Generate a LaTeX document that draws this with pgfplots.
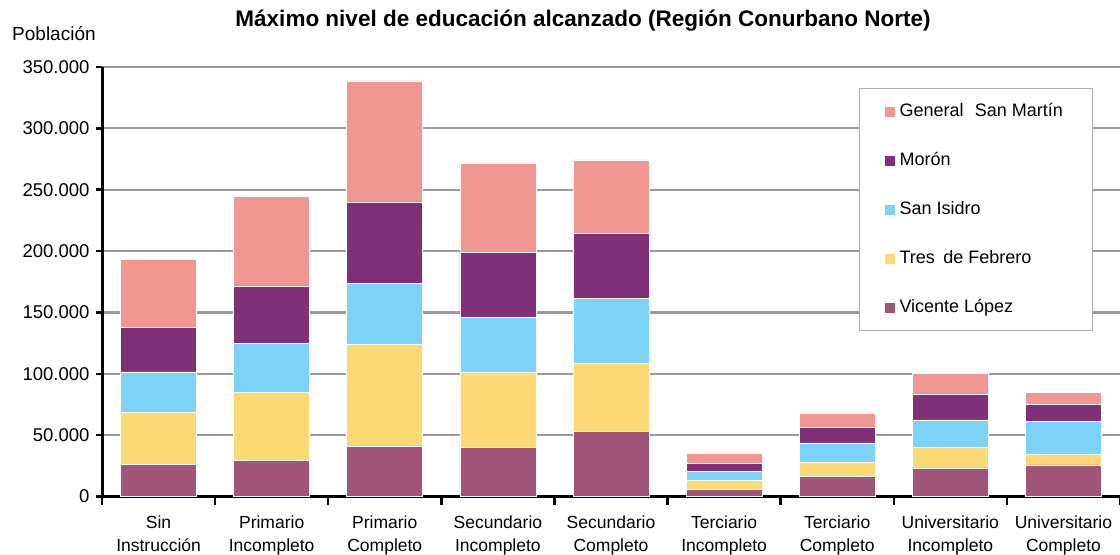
\documentclass[border=0pt]{standalone}
\usepackage{pgfplots}
\pgfplotsset{compat=1.18}
\usepackage{pgfplotstable}
\usepackage{fontspec}
\setmainfont{Liberation Sans}
\usetikzlibrary{calc}
\definecolor{cGSM}{HTML}{F09792}
\definecolor{cMor}{HTML}{7F3079}
\definecolor{cSI}{HTML}{7DD3F7}
\definecolor{cTdF}{HTML}{FDD976}
\definecolor{cVL}{HTML}{A05577}
\definecolor{cgrid}{HTML}{9A9A9E}

\pgfplotstableread{
x VL TdF SI Mor GSM
0 26000 42600 32900 36300 55400
1 29600 55600 39600 46900 73200
2 41200 82800 49400 66700 98500
3 40200 61300 44700 52900 72800
4 53200 55300 53200 52600 60000
5 6000 7300 7100 6800 8400
6 16300 12000 15400 12500 12000
7 23400 16800 22300 21200 16900
8 25800 8700 26600 14200 9500
}\data

\begin{document}
\begin{tikzpicture}
\begin{axis}[name=ax, scale only axis, width=1018pt, height=429.5pt,
  ybar stacked, bar width=76pt,
  xmin=-0.5, xmax=8.5, ymin=0, ymax=350000,
  scaled y ticks=false,
  axis lines*=left, axis line style={black, line width=3pt},
  ytick={0,50000,...,350000},
  yticklabels={0,50.000,100.000,150.000,200.000,250.000,300.000,350.000},
  yticklabel style={font=\fontsize{18.5}{22}\selectfont, xshift=-3pt},
  xtick={0,...,8},
  xticklabels={{Sin\\Instrucción},{Primario\\Incompleto},{Primario\\Completo},{Secundario\\Incompleto},{Secundario\\Completo},{Terciario\\Incompleto},{Terciario\\Completo},{Universitario\\Incompleto},{Universitario\\Completo}},
  xticklabel style={align=center, font=\fontsize{17.5}{22.5}\selectfont, yshift=-10pt},
  minor xtick={-0.5,0.5,...,8.5},
  tick align=outside,
  major tick length=6pt, minor tick length=8pt,
  major x tick style={draw=none},
  minor x tick style={black, line width=2.5pt},
  ytick style={black, line width=2.5pt},
  ymajorgrids, grid style={cgrid, line width=2.2pt},
  legend style={at={(rel axis cs:0.744,0.951)}, anchor=north west,
    draw=cgrid!80, line width=1pt, inner xsep=24pt, inner ysep=15pt,
    row sep=33pt, font=\fontsize{18}{21}\selectfont,
    nodes={inner sep=0pt, text height=12.5pt, text depth=3.5pt},
    /tikz/every odd column/.append style={column sep=4pt}},
  legend cell align=left,
  legend image code/.code={\fill[#1] (0pt,-5.5pt) rectangle (11pt,5.5pt);},
  reverse legend,
]
\addplot[fill=cVL, draw=white, line width=0.6pt] table[x=x,y=VL]{\data};
\addplot[fill=cTdF, draw=white, line width=0.6pt] table[x=x,y=TdF]{\data};
\addplot[fill=cSI, draw=white, line width=0.6pt] table[x=x,y=SI]{\data};
\addplot[fill=cMor, draw=white, line width=0.6pt] table[x=x,y=Mor]{\data};
\addplot[fill=cGSM, draw=white, line width=0.6pt] table[x=x,y=GSM]{\data};
\legend{Vicente López, Tres\hspace{0.2em} de Febrero, San Isidro, Morón, General\hspace{0.35em} San Martín\kern6pt\null}
\end{axis}
\node[font=\bfseries\fontsize{22.5}{26}\selectfont] at ($(ax.north west)+(481pt,46pt)$) {Máximo nivel de educación alcanzado (Región Conurbano Norte)};
\node[anchor=west, inner sep=0pt, font=\fontsize{19}{22}\selectfont] at ($(ax.north west)+(-90pt,33pt)$) {Población};
\pgfresetboundingbox
\path[use as bounding box] ($(ax.south west)+(-102pt,-57.5pt)$) rectangle ($(ax.north east)+(0pt,67pt)$);
\end{tikzpicture}
\end{document}
